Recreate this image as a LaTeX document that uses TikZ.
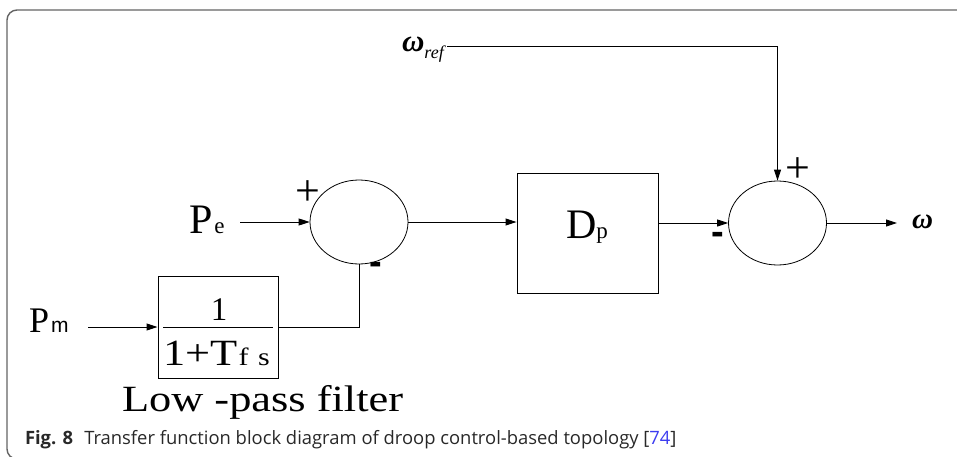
\documentclass[tikz,border=0pt]{standalone}
\usepackage{fontspec}
\setmainfont{Liberation Serif}
\newfontfamily\capfont{Open Sans}
\newfontfamily\sansf{Liberation Sans}
\usetikzlibrary{shapes.geometric,arrows.meta}
\definecolor{framegray}{RGB}{100,100,100}
\definecolor{capgray}{RGB}{40,40,40}
\definecolor{capblue}{RGB}{60,60,240}
\begin{document}
\begin{tikzpicture}[x=1pt,y=-1pt,
  line/.style={line width=0.9pt, black},
  arr/.style={line, -{Triangle[length=11pt,width=7pt]}},
  sumnode/.style={ellipse, draw, line width=0.8pt, minimum width=98pt, minimum height=84pt, inner sep=0pt},
  blk/.style={rectangle, draw, line width=0.9pt, inner sep=0pt},
  lbl/.style={inner sep=0pt, outer sep=0pt},
]
\useasboundingbox (0,0) rectangle (957,457);
\begin{scope}
\clip (0,0) rectangle (957,457);
\draw[line width=1.4pt, color=framegray, rounded corners=10pt] (970,10) -- (7,10) -- (7,459) -- (60,459);
\end{scope}
% blocks
\node[sumnode] (s1) at (359,222) {};
\node[sumnode] (s2) at (777.5,223) {};
\node[blk, minimum width=141pt, minimum height=120pt] (dp) at (587.5,233) {};
\node[blk, minimum width=120pt, minimum height=102pt] (lpf) at (218,327) {};
% texts
\node[lbl, anchor=base west] (pe) at (189,233) {\fontsize{42}{42}\selectfont P\kern2pt\fontsize{23}{23}\selectfont e};
\node[lbl, anchor=base west] (pm) at (29,332) {\fontsize{36}{36}\selectfont P\kern2pt\sansf\fontsize{21}{21}\selectfont m};
\node[lbl, anchor=base west] (dpt) at (566,238) {\fontsize{42}{42}\selectfont D\kern0pt\fontsize{23}{23}\selectfont p};
\node[lbl, anchor=base west] (wref) at (402,52) {\fontsize{31}{31}\selectfont\bfseries\itshape ω\raisebox{-7pt}{\mdseries\fontsize{18}{18}\selectfont ref}};
\node[lbl, anchor=base west] (wo) at (912,228) {\fontsize{29}{29}\selectfont\bfseries\itshape ω};
\node[lbl, anchor=base] (num) at (219,320) {\fontsize{33}{33}\selectfont 1};
\node[lbl, anchor=base west] (den) at (163,365) {\scalebox{1.2}[1]{\fontsize{37}{37}\selectfont 1+T\kern1pt\fontsize{25}{25}\selectfont f\kern8pt s}};
\draw[line] (163,327) -- (273,327);
\node[lbl, anchor=base west] (lpt) at (122,411) {\scalebox{1.2}[1]{\fontsize{37}{37}\selectfont Low -pass filter}};
\node[lbl] (p1) at (308,193) {\fontsize{44}{44}\selectfont +};
\node[lbl] (p2) at (798,170) {\fontsize{44}{44}\selectfont +};
\node[lbl] (m1) at (376,268) {\sansf\bfseries\fontsize{38}{38}\selectfont -};
\node[lbl] (m2) at (718,238) {\sansf\bfseries\fontsize{38}{38}\selectfont -};
\node[lbl, anchor=base west] (cap) at (25,444) {\capfont\fontsize{18.4}{18.4}\selectfont\color{capgray}\textbf{Fig. 8}\hspace{0.6em}Transfer function block diagram of droop control-based topology [\textcolor{capblue}{74}]};
% connectors
\coordinate (peA) at (240,222);
\draw[arr] (peA) -- (s1.west);
\coordinate (pmA) at (88,327);
\draw[arr] (pmA) -- (lpf.west);
\draw[line] (lpf.east) -| (s1.south);
\draw[arr] (s1.east) -- (s1.east -| dp.west);
\draw[arr] (dp.east |- s2.west) -- (s2.west);
\coordinate (wout) at (897,223);
\draw[arr] (s2.east) -- (wout);
\coordinate (wr) at (447,46);
\draw[arr] (wr) -| (s2.north);
\end{tikzpicture}
\end{document}
